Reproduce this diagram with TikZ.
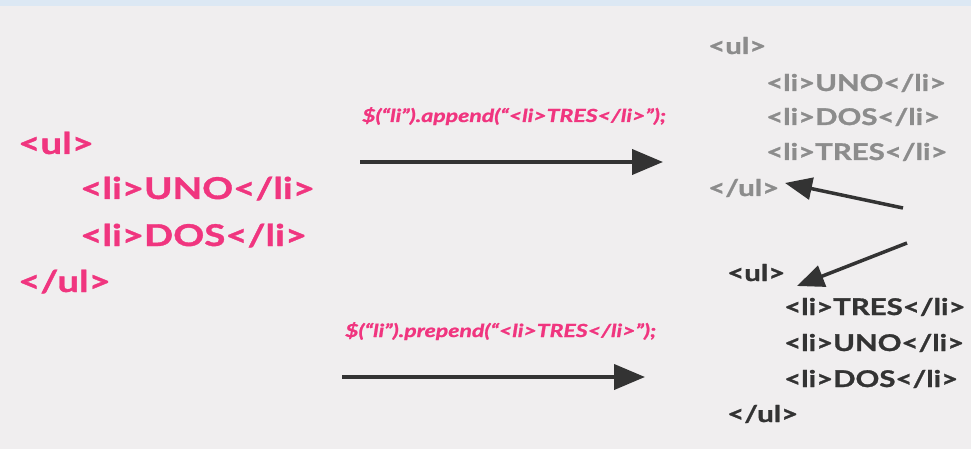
\documentclass[tikz,border=0pt]{standalone}
\usepackage{fontspec}
\setmainfont{Lato}[FakeStretch=1.28,BoldFeatures={FakeBold=1.2},BoldItalicFeatures={FakeBold=1.2}]
\usepackage{xcolor}
\usetikzlibrary{arrows.meta,positioning}
\definecolor{tagpink}{HTML}{F0357F}
\definecolor{taggray}{HTML}{8C8C8C}
\definecolor{tagdark}{HTML}{333333}
\definecolor{paper}{HTML}{F0EEEF}
\definecolor{strip}{HTML}{DCE8F4}

\begin{document}
\begin{tikzpicture}[x=1pt,y=-1pt,
   big/.style={anchor=base west,inner sep=0pt,text=tagpink,
               font=\bfseries\fontsize{30}{36}\selectfont},
   small/.style={anchor=base west,inner sep=0pt,
                 font=\bfseries\fontsize{23}{28}\selectfont},
   code/.style={anchor=base west,inner sep=0pt,text=tagpink,
                font=\bfseries\itshape\fontsize{18}{22}\selectfont},
   arr/.style={-{Triangle[length=31pt,width=25pt]},line width=4pt,draw=tagdark},
   pt/.style={-{Triangle[length=27pt,width=22pt]},line width=3.5pt,draw=tagdark}]
  \fill[paper] (0,0) rectangle (971,449);
  \fill[strip] (0,0) rectangle (971,6);
  \useasboundingbox (0,0) rectangle (971,449);
  % original list
  \node[big] (ul) at (18,154) {<ul>};
  \node[big] (uno) at (80,199) {<li>UNO</li>};
  \node[big] (dos) at (80,246) {<li>DOS</li>};
  \node[big] (cul) at (18,292) {</ul>};
  % append
  \node[code] (app) at (362,122) {\$(“li”).append(“<li>TRES</li>”);};
  \coordinate (a1) at (360,162);
  \coordinate (a2) at (663,162);
  \draw[arr] (a1) -- (a2);
  \node[small,text=taggray] (ula) at (708,54) {<ul>};
  \node[small,text=taggray] (unoa) at (766,91) {<li>UNO</li>};
  \node[small,text=taggray] (dosa) at (766,125) {<li>DOS</li>};
  \node[small,text=taggray] (tresa) at (766,160) {<li>TRES</li>};
  \node[small,text=taggray] (cula) at (708,196) {</ul>};
  \coordinate (p1) at (903,208);
  \coordinate (q1) at (785,183);
  \draw[pt] (p1) -- (q1);
  % prepend
  \node[code] (pre) at (345,337) {\$(“li”).prepend(“<li>TRES</li>”);};
  \coordinate (b1) at (342,377);
  \coordinate (b2) at (645,377);
  \draw[arr] (b1) -- (b2);
  \node[small,text=tagdark] (ulp) at (727,281) {<ul>};
  \node[small,text=tagdark] (tresp) at (784,315) {<li>TRES</li>};
  \node[small,text=tagdark] (unop) at (784,351) {<li>UNO</li>};
  \node[small,text=tagdark] (dosp) at (784,387) {<li>DOS</li>};
  \node[small,text=tagdark] (culp) at (727,422) {</ul>};
  \coordinate (p2) at (907,243);
  \coordinate (q2) at (797,286);
  \draw[pt] (p2) -- (q2);
\end{tikzpicture}
\end{document}
